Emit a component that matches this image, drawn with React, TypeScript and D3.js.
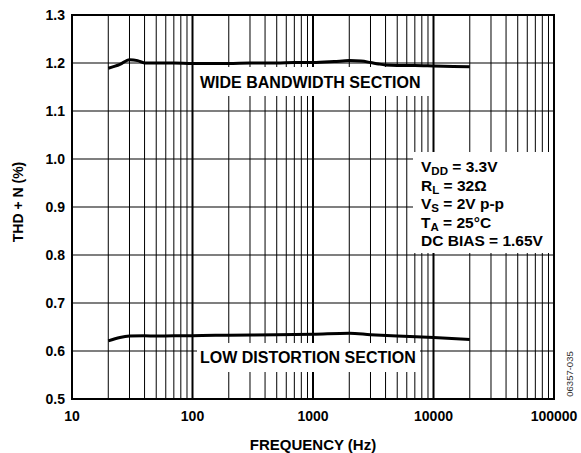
import { scaleLog, scaleLinear, line, curveMonotoneX } from "d3";

// THD+N vs frequency, two operating modes
const wideFreq = [20, 25, 30, 35, 40, 50, 70, 100, 200, 300, 500, 700, 1000, 1500, 2000, 2500, 3000, 3500, 4000, 5000, 7000, 10000, 20000];
const wideThd = [1.189, 1.197, 1.207, 1.205, 1.2, 1.2, 1.2, 1.199, 1.199, 1.2, 1.2, 1.201, 1.201, 1.203, 1.205, 1.204, 1.201, 1.198, 1.196, 1.195, 1.195, 1.194, 1.192];

const lowFreq = [20, 25, 30, 40, 50, 70, 100, 200, 500, 1000, 2000, 3000, 5000, 10000, 20000];
const lowThd = [0.621, 0.628, 0.631, 0.632, 0.631, 0.632, 0.632, 0.633, 0.634, 0.635, 0.637, 0.634, 0.631, 0.628, 0.624];

const xTicks = [10, 100, 1000, 10000, 100000];
const yTicks = [0.5, 0.6, 0.7, 0.8, 0.9, 1.0, 1.1, 1.2, 1.3];

const conditions = [
  { main: "V", sub: "DD", rest: " = 3.3V" },
  { main: "R", sub: "L", rest: " = 32Ω" },
  { main: "V", sub: "S", rest: " = 2V p-p" },
  { main: "T", sub: "A", rest: " = 25°C" },
  { main: "DC BIAS = 1.65V", sub: "", rest: "" },
];

const W = 581;
const H = 453;
const m = { top: 15, right: 27, bottom: 54, left: 72 };

export default function App() {
  const x = scaleLog().domain([10, 100000]).range([m.left, W - m.right]);
  const y = scaleLinear().domain([0.5, 1.3]).range([H - m.bottom, m.top]);

  // minor grid: 1..9 per decade
  const minor: number[] = [];
  for (let d = 10; d < 100000; d *= 10) {
    for (let k = 2; k <= 9; k++) minor.push(d * k);
  }

  const mk = (fs: number[], vs: number[]) =>
    line<number>()
      .x((_, i) => x(fs[i]))
      .y((v) => y(v))
      .curve(curveMonotoneX)(vs) ?? "";

  const font = "'Liberation Sans', Arial, Helvetica, sans-serif";

  return (
    <svg width={W} height={H} style={{ position: "absolute", left: 0, top: 0, background: "#fff" }} fontFamily={font}>
      {/* grid */}
      {minor.map((f) => (
        <line key={f} x1={x(f)} x2={x(f)} y1={y(1.3)} y2={y(0.5)} stroke="#000" strokeWidth={1} />
      ))}
      {xTicks.map((f) => (
        <line key={f} x1={x(f)} x2={x(f)} y1={y(1.3)} y2={y(0.5)} stroke="#000" strokeWidth={2} />
      ))}
      {yTicks.map((v) => (
        <line key={v} x1={x(10)} x2={x(100000)} y1={y(v)} y2={y(v)} stroke="#000" strokeWidth={1.2} />
      ))}

      {/* label boxes mask the grid */}
      <rect x={197} y={67} width={235} height={29} fill="#fff" />
      <rect x={197} y={343} width={223} height={29} fill="#fff" />
      <rect x={413} y={152} width={x(100000) - 413} height={101} fill="#fff" />

      {/* border */}
      <rect x={x(10)} y={y(1.3)} width={x(100000) - x(10)} height={y(0.5) - y(1.3)} fill="none" stroke="#000" strokeWidth={2} />

      {/* curves */}
      <path d={mk(wideFreq, wideThd)} fill="none" stroke="#000" strokeWidth={3} />
      <path d={mk(lowFreq, lowThd)} fill="none" stroke="#000" strokeWidth={3} />

      <text x={200} y={88} fontSize={16} fontWeight="bold">WIDE BANDWIDTH SECTION</text>
      <text x={200} y={363} fontSize={16} fontWeight="bold">LOW DISTORTION SECTION</text>

      {conditions.map((c, i) => (
        <text key={i} x={421} y={172 + i * 18.5} fontSize={15.5} fontWeight="bold">
          {c.main}
          {c.sub && (
            <tspan dy={3} fontSize={11.5}>{c.sub}</tspan>
          )}
          {c.rest && <tspan dy={c.sub ? -3 : 0}>{c.rest}</tspan>}
        </text>
      ))}

      {/* axes labels */}
      {yTicks.map((v) => (
        <text key={v} x={m.left - 7} y={y(v) + 5} textAnchor="end" fontSize={14} fontWeight="bold">
          {v.toFixed(1)}
        </text>
      ))}
      {xTicks.map((f) => (
        <text key={f} x={x(f)} y={421} textAnchor="middle" fontSize={14} fontWeight="bold">
          {f}
        </text>
      ))}
      <text x={(x(10) + x(100000)) / 2} y={450} textAnchor="middle" fontSize={15} fontWeight="bold">
        FREQUENCY (Hz)
      </text>
      <text transform={`translate(23, 202) rotate(-90)`} textAnchor="middle" fontSize={14} fontWeight="bold">
        THD + N (%)
      </text>
      <text transform={`translate(573, 374) rotate(-90)`} textAnchor="middle" fontSize={9.5} fill="#333">
        06357-035
      </text>
    </svg>
  );
}
